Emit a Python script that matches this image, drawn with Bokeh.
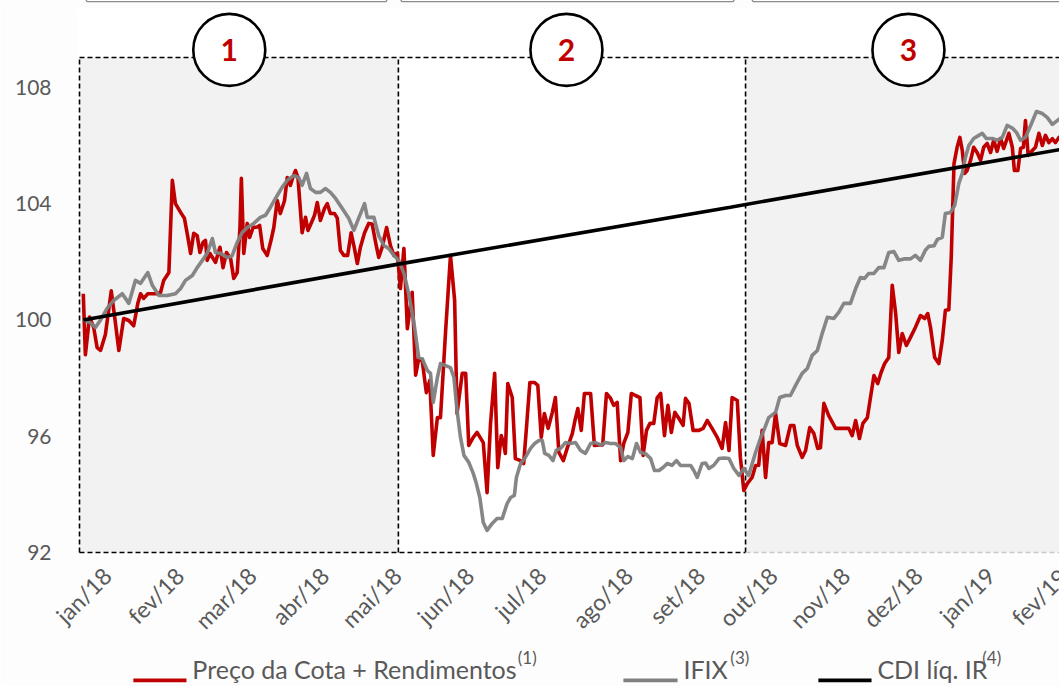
import math
from bokeh.plotting import figure
from bokeh.models import Range1d, FixedTicker
from bokeh.core.properties import value
from bokeh.embed import file_html
from bokeh.resources import INLINE

# ---------------- data (x = trading-day index since start of 2018) ----------------
tick_idx = [8, 29, 50, 71, 92, 113, 134, 159, 180, 201, 222, 243, 264]
tick_labels = ["jan/18", "fev/18", "mar/18", "abr/18", "mai/18", "jun/18", "jul/18",
               "ago/18", "set/18", "out/18", "nov/18", "dez/18", "jan/19"]
next_tick_idx = 285
next_tick_label = "fev/19"

y_ticks = [92, 96, 100, 104, 108]

# Preço da Cota + Rendimentos
cota_x = [1.1, 1.7, 2.9, 4.1, 5.1, 6.1, 7.5, 9.2, 10.4, 11.4, 12.8, 14.3, 15.7, 16.9, 17.7, 18.6,
          19.8, 22.5, 23.5, 24.4, 25.9, 26.9, 27.8, 29.3, 30.4, 31.2, 32.2, 33.1, 34.1, 34.9, 35.8,
          36.5, 37.0, 37.8, 39.4, 40.7, 41.6, 42.6, 43.8, 44.7, 45.7, 46.5, 46.9, 47.6, 48.6, 49.3,
          50.3, 51.5, 52.2, 53.1, 54.4, 55.5, 56.3, 57.3, 58.2, 59.4, 60.2, 61.1, 61.8, 62.6, 63.3,
          64.5, 65.5, 66.2, 67.1, 68.1, 68.9, 69.8, 71.0, 71.8, 72.7, 73.9, 74.7, 75.6, 76.6, 77.7,
          78.7, 79.5, 80.5, 81.4, 82.6, 83.8, 84.8, 85.8, 86.7, 87.7, 89.0, 90.1, 91.1, 92.1, 93.0,
          94.0, 95.0, 96.4, 97.4, 98.3, 99.3, 100.5, 101.5, 102.5, 103.7, 104.6, 106.1, 107.5,
          108.7, 109.4, 110.9, 111.9, 112.8, 114.1, 115.2, 117.0, 118.1, 119.1, 120.3, 121.2,
          122.2, 122.8, 123.4, 124.1, 125.4, 126.3, 127.8, 128.7, 129.5, 130.5, 131.8, 132.8,
          133.8, 134.7, 135.8, 137.0, 137.9, 138.9, 140.2, 141.3, 142.8, 143.7, 144.4, 145.4,
          146.3, 148.1, 149.2, 150.5, 151.6, 152.7, 153.9, 154.8, 155.8, 156.8, 157.7, 158.9,
          159.9, 161.1, 162.4, 163.3, 164.3, 165.3, 166.4, 167.4, 168.4, 169.5, 170.5, 171.5,
          172.5, 173.7, 174.9, 175.6, 176.6, 177.8, 179.5, 180.7, 181.9, 183.3, 184.8, 186.2,
          187.2, 188.2, 189.1, 190.6, 191.5, 192.5, 193.5, 194.9, 195.9, 196.8, 197.8, 198.8,
          199.7, 200.7, 201.7, 202.9, 204.6, 206.0, 207.0, 208.0, 209.4, 210.4, 211.6, 212.8,
          213.9, 214.7, 215.7, 217.1, 219.1, 222.9, 223.9, 224.9, 226.0, 227.0, 228.3, 229.2,
          230.2, 231.3, 232.3, 233.3, 234.5, 235.5, 236.5, 237.4, 238.4, 239.6, 240.8, 242.2,
          243.7, 244.9, 245.8, 246.6, 247.8, 249.0, 250.0, 250.9, 251.9, 252.6, 253.4, 254.3,
          255.1, 255.8, 256.5, 257.2, 258.2, 259.1, 260.1, 261.1, 262.0, 263.0, 264.0, 264.9,
          265.9, 266.9, 267.8, 269.3, 270.3, 270.9, 271.9, 272.7, 273.5, 274.1, 274.9, 275.9,
          277.0, 278.0, 279.0, 279.9, 280.9, 281.9, 282.8, 283.8, 285.0]
cota_y = [100.9, 98.8, 100.1, 99.75, 99.05, 98.95, 99.5, 101.0, 99.9, 98.95, 100.05, 99.98, 99.8,
          100.57, 100.9, 100.74, 100.9, 100.9, 100.95, 101.36, 101.63, 104.8, 104.0, 103.7, 103.5,
          102.98, 102.29, 102.98, 102.9, 102.32, 102.67, 102.74, 102.05, 102.29, 101.98, 102.5,
          101.8, 102.32, 102.1, 101.43, 101.63, 103.18, 104.87, 102.29, 103.32, 102.84, 103.18,
          103.2, 103.25, 102.46, 102.22, 102.74, 103.18, 104.11, 103.66, 104.1, 104.9, 104.63,
          104.9, 105.14, 104.9, 103.0, 103.53, 103.08, 103.32, 103.6, 104.04, 103.42, 103.84,
          104.0, 103.66, 103.66, 103.5, 102.39, 102.22, 102.22, 103.0, 102.56, 101.94, 102.5,
          103.0, 103.32, 103.3, 102.67, 102.15, 102.5, 103.18, 102.56, 102.22, 102.3, 101.08,
          102.46, 99.7, 100.95, 98.1, 98.67, 98.6, 97.5, 97.92, 95.34, 96.64, 96.64, 99.64,
          102.22, 100.67, 96.78, 98.16, 98.16, 95.68, 95.96, 96.13, 95.78, 94.06, 96.44, 98.16,
          94.92, 96.02, 95.8, 95.41, 97.81, 97.33, 95.23, 95.16, 95.06, 96.27, 97.85, 97.85,
          97.75, 95.96, 96.78, 96.27, 96.82, 97.33, 95.44, 95.16, 95.58, 96.09, 96.61, 96.95,
          96.2, 97.47, 97.47, 95.68, 95.7, 95.7, 97.47, 97.3, 97.06, 97.16, 95.16, 95.75, 96.13,
          97.47, 97.4, 97.33, 95.34, 96.2, 96.44, 96.44, 97.33, 97.47, 96.02, 97.06, 96.13,
          96.82, 96.61, 96.37, 97.3, 97.13, 96.2, 96.2, 96.27, 96.54, 96.27, 95.96, 95.58, 96.47,
          95.51, 97.33, 97.23, 95.27, 94.13, 94.37, 94.58, 94.99, 95.0, 96.2, 94.58, 95.78,
          95.78, 96.78, 95.75, 95.68, 96.37, 96.37, 95.68, 95.27, 95.51, 96.3, 96.09, 95.58,
          95.6, 97.13, 96.71, 96.27, 96.27, 96.02, 96.54, 95.92, 96.44, 96.64, 97.33, 98.09,
          97.81, 98.2, 98.5, 98.71, 101.19, 100.22, 98.88, 99.53, 99.12, 99.4, 99.74, 100.15,
          100.05, 100.22, 99.74, 98.71, 98.5, 99.29, 100.33, 100.35, 102.15, 105.38, 105.94,
          106.28, 105.83, 105.04, 105.14, 105.49, 105.94, 105.76, 105.49, 105.94, 106.07,
          105.76, 106.18, 105.8, 106.24, 105.9, 106.42, 105.94, 105.14, 105.14, 105.9, 105.94,
          106.86, 105.66, 105.8, 105.94, 106.42, 106.0, 106.35, 106.1, 106.24, 106.1, 106.28,
          106.2]

# IFIX
ifix_x = [1.1, 3.2, 4.6, 6.1, 8.0, 9.9, 12.4, 14.3, 16.2, 17.7, 19.8, 21.1, 23.0, 25.4, 27.8, 29.3,
          30.7, 32.7, 34.1, 35.6, 37.0, 38.5, 39.4, 40.9, 42.8, 44.2, 45.7, 47.1, 48.6, 50.5, 52.4,
          53.9, 55.3, 57.3, 58.7, 60.2, 62.1, 63.5, 64.5, 65.8, 66.9, 68.4, 69.8, 71.3, 72.7, 74.2,
          76.1, 78.0, 79.5, 80.9, 82.6, 83.4, 85.3, 86.7, 88.2, 89.6, 91.1, 92.5, 94.0, 95.4, 96.9,
          98.3, 99.3, 100.8, 101.7, 102.5, 103.7, 104.6, 106.1, 107.5, 108.5, 109.4, 110.4, 111.4,
          112.8, 114.1, 115.0, 116.0, 117.0, 118.1, 119.6, 121.0, 122.5, 123.9, 124.9, 126.0,
          126.6, 127.8, 129.2, 130.7, 131.9, 133.1, 134.1, 134.8, 136.0, 137.2, 138.1, 139.4,
          140.8, 142.3, 143.7, 145.2, 146.6, 148.1, 149.5, 151.0, 152.4, 153.9, 155.3, 156.8,
          157.7, 158.9, 160.2, 161.4, 162.6, 164.0, 165.5, 166.6, 167.9, 169.1, 170.3, 171.7,
          173.0, 174.2, 175.6, 177.1, 178.0, 179.0, 180.4, 181.4, 182.4, 183.8, 185.3, 186.7,
          188.2, 189.6, 191.1, 192.5, 193.9, 195.9, 197.3, 198.3, 199.7, 201.7, 202.9, 204.6,
          206.0, 207.5, 209.4, 210.9, 212.3, 213.8, 215.2, 216.7, 218.6, 220.0, 221.5, 223.4,
          224.9, 226.3, 227.5, 228.7, 230.2, 231.6, 233.1, 234.5, 236.0, 237.4, 238.9, 240.8,
          242.2, 243.7, 245.1, 246.1, 247.6, 248.6, 250.0, 250.9, 252.4, 253.6, 254.8, 255.8,
          256.7, 257.7, 259.1, 260.6, 261.6, 262.8, 264.5, 265.9, 267.4, 268.8, 270.3, 271.5,
          272.7, 274.1, 275.6, 277.3, 279.0, 280.4, 281.9, 283.8, 285.0]
ifix_y = [100.0, 99.9, 99.74, 100.0, 100.4, 100.67, 100.9, 100.57, 101.36, 101.26, 101.63, 101.19,
          100.84, 100.84, 100.9, 101.08, 101.36, 101.53, 101.8, 102.05, 102.29, 102.8, 102.32,
          102.29, 102.15, 102.2, 102.67, 103.0, 103.18, 103.32, 103.53, 103.6, 103.87, 104.28,
          104.56, 104.8, 104.97, 104.9, 104.63, 105.04, 104.52, 104.39, 104.39, 104.52, 104.39,
          104.18, 103.84, 103.5, 103.08, 103.5, 104.0, 103.53, 103.53, 102.9, 102.56, 102.46,
          102.22, 102.05, 101.6, 100.9, 99.9, 98.71, 98.67, 98.26, 98.16, 97.16, 98.02, 98.5,
          98.43, 98.36, 98.02, 96.89, 95.96, 95.34, 95.1, 94.72, 94.37, 93.89, 93.03, 92.76, 93.0,
          93.17, 93.17, 93.68, 93.89, 93.96, 94.58, 95.06, 95.27, 95.58, 95.75, 95.85, 95.85,
          95.41, 95.34, 95.16, 95.51, 95.58, 95.78, 95.75, 95.78, 95.51, 95.41, 95.75, 95.78,
          95.7, 95.78, 95.75, 95.75, 95.61, 95.16, 95.3, 95.23, 95.75, 95.44, 95.4, 95.23, 94.82,
          94.82, 94.92, 95.06, 95.0, 95.16, 94.99, 94.99, 94.99, 94.82, 94.58, 95.06, 95.08,
          94.89, 95.0, 95.23, 95.25, 95.23, 94.89, 94.65, 94.89, 94.65, 95.44, 95.92, 96.2, 96.64,
          96.82, 97.33, 97.4, 97.4, 97.75, 98.16, 98.33, 98.78, 98.95, 99.53, 100.09, 100.05,
          100.26, 100.57, 100.57, 101.08, 101.46, 101.43, 101.6, 101.6, 101.8, 101.8, 102.32,
          102.35, 102.05, 102.1, 102.1, 102.22, 102.05, 102.4, 102.53, 102.55, 102.77, 102.84,
          103.66, 103.7, 103.94, 104.7, 105.04, 105.59, 106.0, 106.24, 106.35, 106.42, 106.24,
          106.24, 106.18, 106.28, 106.69, 106.6, 106.45, 106.18, 106.28, 106.69, 107.17, 107.1,
          106.97, 106.73, 106.9, 107.0]

# CDI líquido de IR
cdi_x = [1.1, 92.4, 188.6, 285.0]
cdi_y = [100.0, 101.92, 103.88, 105.88]

# phases of the period
phase_start = [0.0, 92.4, 193.0]
phase_end = [92.4, 193.0, 290.0]
phase_fill = ["#f2f2f2", "#ffffff", "#f2f2f2"]
phase_names = ["1", "2", "3"]
phase_center = [43.4, 141.1, 240.2]

# ---------------- figure ----------------
RED = "#c00000"
GREY = "#808080"
TXT = "#595959"
FONT = "Lato"

Y0, Y1 = 91.93, 110.68
BOX_TOP = 109.03

p = figure(width=1059, height=686, output_backend="svg", toolbar_location=None,
           x_range=Range1d(-0.58, 283.97), y_range=Range1d(Y0, Y1),
           min_border_left=77, min_border_right=0, min_border_top=9, min_border_bottom=132)
p.background_fill_color = "#ffffff"
p.border_fill_color = "#fdfdfd"
p.outline_line_color = None
p.grid.visible = False

# bottoms of the header boxes above the chart
hdr_xs = [[0.9, 2.2, 88.8, 90.1], [92.1, 93.4, 189.4, 190.7], [193.9, 195.2, 290.0, 291.0]]
hdr_ys = [[111.2, 110.95, 110.95, 111.2]] * 3
p.multi_line(hdr_xs, hdr_ys, line_color="#8c8c8c", line_width=1.3, level="overlay")

# phase boxes
p.quad(left=phase_start, right=phase_end, bottom=92, top=BOX_TOP,
       fill_color=phase_fill, line_color=None)
# dashed frame of the phases
p.segment(x0=phase_start, y0=[92] * 3, x1=phase_start, y1=[BOX_TOP] * 3,
          line_color="black", line_width=1.6, line_dash="5 3")
p.segment(x0=[phase_start[0]], y0=[BOX_TOP], x1=[phase_end[-1]], y1=[BOX_TOP],
          line_color="black", line_width=1.6, line_dash="5 3")
p.segment(x0=[phase_start[0]], y0=[92], x1=[phase_start[2]], y1=[92],
          line_color="black", line_width=1.6, line_dash="5 3")
p.segment(x0=[phase_start[2]], y0=[92], x1=[phase_end[2]], y1=[92],
          line_color="#c8c8c8", line_width=1.6, line_dash="5 3")

# series
p.line(cota_x, cota_y, line_color=RED, line_width=3.6, line_join="round")
p.line(ifix_x, ifix_y, line_color=GREY, line_width=3.6, line_alpha=0.95, line_join="round")
p.line(cdi_x, cdi_y, line_color="black", line_width=3.6)

# numbered circles
circ_y = [109.29] * 3
p.scatter(phase_center, circ_y, marker="circle", size=72, fill_color="white",
          line_color="black", line_width=2.6, level="overlay")
p.text(phase_center, circ_y, text=phase_names, text_color=RED, text_font=value(FONT),
       text_font_style="bold", text_font_size="30px", text_align="center",
       text_baseline="middle", level="overlay")

# axes
p.yaxis.ticker = FixedTicker(ticks=y_ticks)
p.xaxis.ticker = FixedTicker(ticks=tick_idx)
p.xaxis.major_label_overrides = {t: l for t, l in zip(tick_idx, tick_labels)}
p.xaxis.major_label_orientation = math.pi / 4
for ax in (p.xaxis, p.yaxis):
    ax.axis_line_color = None
    ax.major_tick_line_color = None
    ax.minor_tick_line_color = None
    ax.major_label_text_color = TXT
    ax.major_label_text_font = FONT
p.yaxis.major_label_text_font_size = "21px"
p.xaxis.major_label_text_font_size = "23px"
p.yaxis.major_label_standoff = 20
p.xaxis.major_label_standoff = 11

# last (cut) month label
p.text([next_tick_idx], [91.3], text=[next_tick_label], angle=math.pi / 4,
       text_color=TXT, text_font=value(FONT), text_font_size="23px",
       text_align="right", text_baseline="middle", level="overlay")

# legend (drawn below the plot area)
LEG_LINE_Y = 87.60
LEG_TXT_Y = 87.98
LEG_SUP_Y = 88.39
leg_line_x0 = [15.6, 157.6, 214.1]
leg_line_x1 = [31.0, 173.3, 229.5]
leg_colors = [RED, GREY, "black"]
leg_text_x = [32.7, 175.0, 231.2]
leg_texts = ["Preço da Cota + Rendimentos", "IFIX", "CDI líq. IR"]
leg_sup_x = [127.0, 188.6, 261.6]
leg_sups = ["(1)", "(3)", "(4)"]
p.segment(x0=leg_line_x0, y0=[LEG_LINE_Y] * 3, x1=leg_line_x1, y1=[LEG_LINE_Y] * 3,
          line_color=leg_colors, line_width=3.6, level="overlay")
p.text(leg_text_x, [LEG_TXT_Y] * 3, text=leg_texts, text_color=TXT, text_font=value(FONT),
       text_font_size="25px", text_align="left", text_baseline="middle", level="overlay")
p.text(leg_sup_x, [LEG_SUP_Y] * 3, text=leg_sups, text_color=TXT, text_font=value(FONT),
       text_font_size="17px", text_align="left", text_baseline="middle", level="overlay")

open("out.html", "w").write(file_html(p, INLINE))
